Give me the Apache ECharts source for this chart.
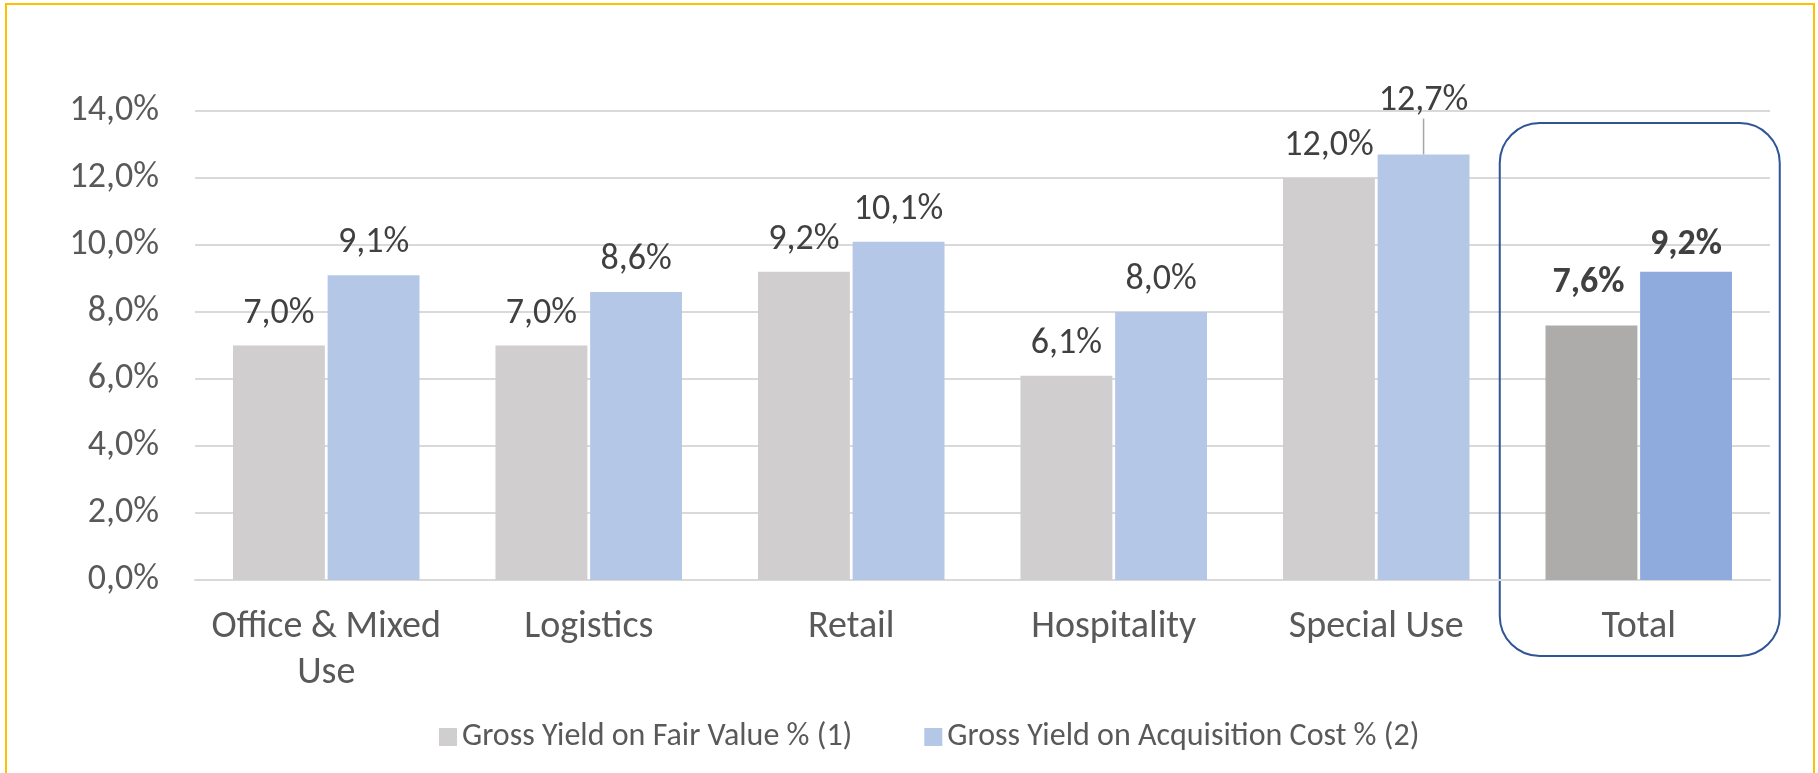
<!DOCTYPE html>
<html>
<head>
<meta charset="utf-8">
<title>Gross Yield</title>
<script src="https://cdn.jsdelivr.net/npm/echarts@6/dist/echarts.min.js"></script>
<style>
  html, body { margin: 0; padding: 0; background: #fff; }
  #chart { width: 1818px; height: 773px; }
</style>
</head>
<body>
<div id="chart"></div>
<script>
const categories = ['Office & Mixed\nUse', 'Logistics', 'Retail', 'Hospitality', 'Special Use', 'Total']
const fairValue = [7.0, 7.0, 9.2, 6.1, 12.0, 7.6]
const acquisitionCost = [9.1, 8.6, 10.1, 8.0, 12.7, 9.2]
const seriesNames = ['Gross Yield on Fair Value % (1)', 'Gross Yield on Acquisition Cost % (2)']
const yTicks = [0, 2, 4, 6, 8, 10, 12, 14]

const font = 'Calibri, Carlito, Lato, sans-serif'
const fmt = v => v.toFixed(1).replace('.', ',') + '%'
const lastIndex = categories.length - 1

// last category (Total) gets darker colours and bold labels
function toItems(values, color, totalColor) {
  return values.map((v, i) => {
    const last = i === lastIndex
    return {
      value: v,
      itemStyle: { color: last ? totalColor : color },
      label: last ? { fontWeight: 'bold' } : undefined
    }
  })
}

const costItems = toItems(acquisitionCost, '#B4C7E7', '#8FAADC')
// 12,7% label is pulled up above the plot with a leader line
costItems[4].labelLine = { show: true, lineStyle: { color: '#A6A6A6', width: 1.5 } }

const barLabel = {
  show: true,
  position: 'top',
  distance: 14,
  color: '#404040',
  fontSize: 36,
  formatter: p => fmt(p.value)
}

const chart = echarts.init(document.getElementById('chart'))

chart.setOption({
  animation: false,
  textStyle: { fontFamily: font },
  grid: { left: 195, right: 48, top: 111, bottom: 193 },
  legend: {
    left: 434,
    top: 716,
    itemWidth: 18,
    itemHeight: 18,
    itemGap: 72,
    icon: 'rect',
    textStyle: { fontSize: 32, color: '#595959', fontFamily: font }
  },
  xAxis: {
    type: 'category',
    data: categories,
    axisTick: { show: false },
    axisLine: { lineStyle: { color: '#D9D9D9', width: 2 } },
    axisLabel: { color: '#595959', fontSize: 38, lineHeight: 46, margin: 24, interval: 0 }
  },
  yAxis: {
    type: 'value',
    min: yTicks[0],
    max: yTicks[yTicks.length - 1],
    interval: 2,
    axisLabel: { color: '#595959', fontSize: 36, margin: 36, formatter: v => fmt(v) },
    splitLine: { lineStyle: { color: '#D9D9D9', width: 2 } }
  },
  series: [{
    name: seriesNames[0],
    type: 'bar',
    barWidth: '35%',
    barGap: '3%',
    itemStyle: { color: '#D0CECE' },
    label: barLabel,
    labelLayout: p => (p.dataIndex === lastIndex ? { dy: -10, dx: -3 } : {}),
    data: toItems(fairValue, '#D0CECE', '#AEABAB')
  }, {
    name: seriesNames[1],
    type: 'bar',
    barWidth: '35%',
    barGap: '3%',
    itemStyle: { color: '#B4C7E7' },
    label: barLabel,
    labelLayout: p => {
      if (p.dataIndex === 4) return { dy: -22 }
      if (p.dataIndex === lastIndex) return { dy: 5 }
      return {}
    },
    data: costItems
  }]
})

// yellow frame and the rounded box round "Total"
const totalX = chart.convertToPixel({ xAxisIndex: 0 }, lastIndex)
chart.setOption({
  graphic: [{
    type: 'rect',
    silent: true,
    shape: { x: 6, y: 4, width: 1808, height: 820 },
    style: { fill: 'none', stroke: '#FFC000', lineWidth: 2 }
  }, {
    type: 'rect',
    silent: true,
    shape: { x: totalX - 139, y: 123, width: 280, height: 533, r: 40 },
    style: { fill: 'none', stroke: '#2F5597', lineWidth: 2 }
  }]
})
</script>
</body>
</html>
